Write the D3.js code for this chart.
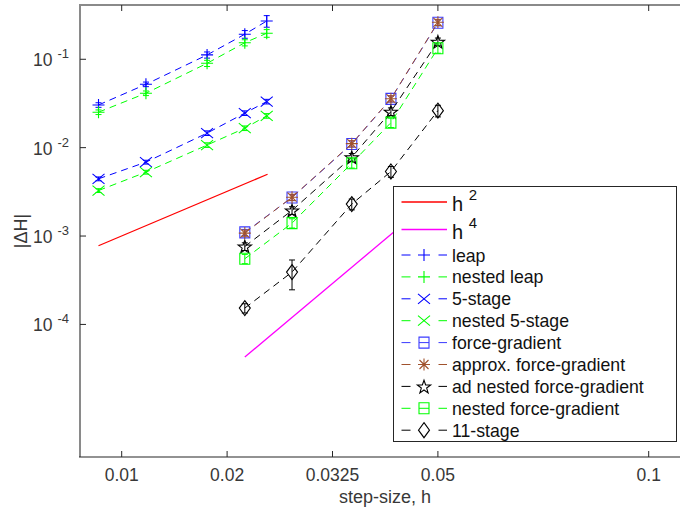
<!DOCTYPE html>
<html><head><meta charset="utf-8">
<script src="https://cdn.jsdelivr.net/npm/d3@7"></script>
<style>
html,body{margin:0;padding:0;background:#fff;}
svg{display:block;font-family:"Liberation Sans",Arial,Helvetica,sans-serif;}
</style></head>
<body><svg id="chart" width="680" height="511"></svg>
<script>
// ---------------- data ----------------
const xTicks = [0.01, 0.02, 0.0325, 0.05, 0.1];
const xTickLabels = ["0.01", "0.02", "0.0325", "0.05", "0.1"];
const yTicks = [1e-4, 1e-3, 1e-2, 1e-1];
const yTickExps = ["-4", "-3", "-2", "-1"];

const hA = [0.0078, 0.0123, 0.0181, 0.0221, 0.0247];
const hB = [0.0221, 0.0277, 0.0357, 0.0422, 0.05];

const leap         = [0.0304, 0.0521, 0.112, 0.192, 0.271];
const nestedLeap   = [0.0252, 0.0413, 0.090, 0.154, 0.197];
const stage5       = [0.00444, 0.00686, 0.0146, 0.0246, 0.0332];
const nestedStage5 = [0.00327, 0.00528, 0.0107, 0.0166, 0.0229];
const forceGrad    = [0.00110, 0.00273, 0.0110, 0.0356, 0.259];
const approxFG     = [0.00108, 0.00275, 0.0111, 0.0358, 0.262];
const adNestedFG   = [0.000762, 0.00195, 0.0078, 0.0256, 0.158];
const nestedFG     = [0.000553, 0.00140, 0.00667, 0.0192, 0.133];
const stage11      = [0.000153, 0.000391, 0.00230, 0.00537, 0.0262];

// relative error-bar half widths
const leapErr         = [0.06, 0.06, 0.08, 0.10, 0.15];
const nestedLeapErr   = [0.06, 0.06, 0.08, 0.08, 0.10];
const stage5Err       = [0.05, 0.05, 0.06, 0.06, 0.06];
const nestedStage5Err = [0.05, 0.05, 0.06, 0.06, 0.06];
const forceGradErr    = [0.08, 0.08, 0.08, 0.08, 0.08];
const approxFGErr     = [0.08, 0.08, 0.08, 0.08, 0.08];
const adNestedFGErr   = [0.10, 0.10, 0.10, 0.10, 0.10];
const nestedFGErr     = [0.12, 0.12, 0.12, 0.12, 0.12];
const stage11Err      = [0.12, 0.37, 0.14, 0.14, 0.15];

const h2Ref = {h: [0.0078, 0.0248], v: [7.76e-4, 5.0e-3]};
const h4Ref = {h: [0.0221, 0.05], v: [4.28e-5, 2.91e-3]};

// ---------------- layout ----------------
const W = 680, H = 511;
const plotL = 80, plotR = 690, plotT = 5, plotB = 457;
const x0 = 121.7, step = 105.4;
const yDomain = [Math.pow(10, -5.5), Math.pow(10, -0.386)];

const svg = d3.select("#chart");
const x = d3.scaleLinear()
  .domain(xTicks)
  .range([x0, x0 + step, x0 + 2 * step, x0 + 3 * step, x0 + 5 * step]);
const y = d3.scaleLog().domain(yDomain).range([plotB, plotT]);

const blue = "#0000ff", green = "#00ff00", brown = "#a0522d", black = "#000000";

const series = [
  {name: "leap", h: hA, v: leap, e: leapErr, color: blue, marker: "plus"},
  {name: "nested leap", h: hA, v: nestedLeap, e: nestedLeapErr, color: green, marker: "plus"},
  {name: "5-stage", h: hA, v: stage5, e: stage5Err, color: blue, marker: "cross"},
  {name: "nested 5-stage", h: hA, v: nestedStage5, e: nestedStage5Err, color: green, marker: "cross"},
  {name: "force-gradient", h: hB, v: forceGrad, e: forceGradErr, color: "#3a3aff", marker: "square"},
  {name: "approx. force-gradient", h: hB, v: approxFG, e: approxFGErr, color: brown, marker: "asterisk"},
  {name: "ad nested force-gradient", h: hB, v: adNestedFG, e: adNestedFGErr, color: black, marker: "star"},
  {name: "nested force-gradient", h: hB, v: nestedFG, e: nestedFGErr, color: green, marker: "square"},
  {name: "11-stage", h: hB, v: stage11, e: stage11Err, color: black, marker: "diamond"}
];

function markerPath(type) {
  const p = d3.path();
  if (type === "plus") {
    p.moveTo(-6, 0); p.lineTo(6, 0); p.moveTo(0, -6); p.lineTo(0, 6);
  } else if (type === "cross") {
    p.moveTo(-6, -5); p.lineTo(6, 5); p.moveTo(-6, 5); p.lineTo(6, -5);
  } else if (type === "asterisk") {
    p.moveTo(-6, 0); p.lineTo(6, 0); p.moveTo(0, -6); p.lineTo(0, 6);
    p.moveTo(-4.5, -4.5); p.lineTo(4.5, 4.5); p.moveTo(-4.5, 4.5); p.lineTo(4.5, -4.5);
  } else if (type === "square") {
    p.rect(-5, -5.5, 10, 11);
  } else if (type === "diamond") {
    p.moveTo(0, -7.5); p.lineTo(5.5, 0); p.lineTo(0, 7.5); p.lineTo(-5.5, 0); p.closePath();
  } else if (type === "star") {
    const R = 7, r = R * 0.4;
    for (let i = 0; i < 10; i++) {
      const a = -Math.PI / 2 + i * Math.PI / 5;
      const rr = i % 2 === 0 ? R : r;
      const px = rr * Math.cos(a), py = rr * Math.sin(a) + 0.8;
      if (i === 0) p.moveTo(px, py); else p.lineTo(px, py);
    }
    p.closePath();
  }
  return p.toString();
}

// clip
svg.append("clipPath").attr("id", "clip").append("rect")
  .attr("x", plotL).attr("y", plotT).attr("width", plotR - plotL).attr("height", plotB - plotT);

const g = svg.append("g").attr("clip-path", "url(#clip)");

// reference lines
const refLine = d3.line().x(d => x(d[0])).y(d => y(d[1]));
g.append("path").attr("d", refLine(h2Ref.h.map((h, i) => [h, h2Ref.v[i]])))
  .attr("fill", "none").attr("stroke", "#ff0000").attr("stroke-width", 1.3);
g.append("path").attr("d", refLine(h4Ref.h.map((h, i) => [h, h4Ref.v[i]])))
  .attr("fill", "none").attr("stroke", "#ff00ff").attr("stroke-width", 1.3);

// series
series.forEach(s => {
  const pts = s.h.map((h, i) => ({h, v: s.v[i], e: s.e[i]}));
  const sg = g.append("g");
  sg.append("path").attr("d", d3.line().x(d => x(d.h)).y(d => y(d.v))(pts))
    .attr("fill", "none").attr("stroke", s.color).attr("stroke-width", 1)
    .attr("stroke-dasharray", "7,5");
  // error bars
  pts.forEach(d => {
    const cx = x(d.h), yl = y(d.v * (1 - d.e)), yh = y(d.v * (1 + d.e));
    const ep = d3.path();
    ep.moveTo(cx, yl); ep.lineTo(cx, yh);
    ep.moveTo(cx - 3, yl); ep.lineTo(cx + 3, yl);
    ep.moveTo(cx - 3, yh); ep.lineTo(cx + 3, yh);
    sg.append("path").attr("d", ep.toString()).attr("stroke", s.color)
      .attr("stroke-width", 1).attr("fill", "none");
  });
  sg.selectAll("path.mk").data(pts).join("path").attr("class", "mk")
    .attr("transform", d => `translate(${x(d.h)},${y(d.v)})`)
    .attr("d", markerPath(s.marker))
    .attr("fill", "none").attr("stroke", s.color).attr("stroke-width", 1.1);
});

// axes frame
const axisDark = "#262626", axisGray = "#8a8a8a";
svg.append("line").attr("x1", plotL).attr("x2", plotR).attr("y1", plotT).attr("y2", plotT)
  .attr("stroke", axisGray).attr("stroke-width", 2);
svg.append("line").attr("x1", plotL).attr("x2", plotL).attr("y1", plotT - 1).attr("y2", plotB)
  .attr("stroke", axisGray).attr("stroke-width", 2);
svg.append("line").attr("x1", plotL - 1).attr("x2", plotR).attr("y1", plotB).attr("y2", plotB)
  .attr("stroke", axisDark).attr("stroke-width", 1.2);

// x ticks (bottom and top, inward)
const xt = svg.append("g");
xTicks.forEach((t, i) => {
  const px = x(t);
  xt.append("line").attr("x1", px).attr("x2", px).attr("y1", plotB).attr("y2", plotB - 6)
    .attr("stroke", axisDark).attr("stroke-width", 1);
  xt.append("line").attr("x1", px).attr("x2", px).attr("y1", plotT).attr("y2", plotT + 6)
    .attr("stroke", axisDark).attr("stroke-width", 1);
  xt.append("text").attr("x", px).attr("y", plotB + 24).attr("text-anchor", "middle")
    .attr("font-size", 17.5).attr("fill", "#383838").text(xTickLabels[i]);
});

// y ticks
const yt = svg.append("g");
yTicks.forEach((t, i) => {
  const py = y(t);
  yt.append("line").attr("x1", plotL).attr("x2", plotL + 6).attr("y1", py).attr("y2", py)
    .attr("stroke", axisDark).attr("stroke-width", 1);
  const tx = yt.append("text").attr("x", 69).attr("y", py + 7).attr("text-anchor", "end")
    .attr("font-size", 17.5).attr("fill", "#383838");
  tx.append("tspan").text("10 ");
  tx.append("tspan").attr("font-size", 13).attr("dy", -8).text(yTickExps[i]);
});

// axis labels
svg.append("text").attr("transform", `translate(27,${(plotT + plotB) / 2}) rotate(-90)`)
  .attr("text-anchor", "middle").attr("font-size", 18).attr("fill", "#383838").text("|ΔH|");
svg.append("text").attr("x", 385).attr("y", 503).attr("text-anchor", "middle")
  .attr("font-size", 18).attr("fill", "#383838").text("step-size, h");

// legend
const lg = svg.append("g");
lg.append("rect").attr("x", 393.5).attr("y", 186.5).attr("width", 283).attr("height", 255)
  .attr("fill", "#fff").attr("stroke", axisDark).attr("stroke-width", 1);
const lx1 = 401.5, lx2 = 447, lmid = 424, ltx = 452;
const refEntries = [
  {label: "h", sup: "2", color: "#ff0000", yy: 202},
  {label: "h", sup: "4", color: "#ff00ff", yy: 229.5}
];
refEntries.forEach(r => {
  lg.append("line").attr("x1", lx1).attr("x2", lx2).attr("y1", r.yy).attr("y2", r.yy)
    .attr("stroke", r.color).attr("stroke-width", 1.3);
  const t = lg.append("text").attr("x", ltx).attr("y", r.yy + 9).attr("font-size", 20).attr("fill", "#111");
  t.append("tspan").text(r.label + " ");
  t.append("tspan").attr("font-size", 15).attr("dy", -11).text(r.sup);
});
series.forEach((s, i) => {
  const yy = 255 + i * 21.9;
  lg.append("line").attr("x1", lx1).attr("x2", lx2).attr("y1", yy).attr("y2", yy)
    .attr("stroke", s.color).attr("stroke-width", 1).attr("stroke-dasharray", "9,28");
  lg.append("path").attr("transform", `translate(${lmid},${yy})`).attr("d", markerPath(s.marker))
    .attr("fill", "none").attr("stroke", s.color).attr("stroke-width", 1.1);
  if (s.marker === "square") {
    lg.append("line").attr("x1", lmid - 5).attr("x2", lmid + 5).attr("y1", yy).attr("y2", yy)
      .attr("stroke", s.color).attr("stroke-width", 1);
  }
  lg.append("text").attr("x", ltx).attr("y", yy + 6.5).attr("font-size", 17.7).attr("fill", "#111").text(s.name);
});
</script>
</body></html>
